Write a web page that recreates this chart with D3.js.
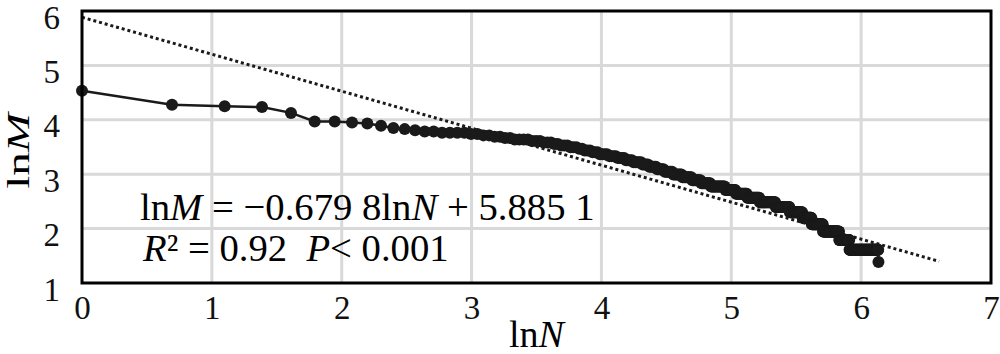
<!DOCTYPE html>
<html>
<head>
<meta charset="utf-8">
<script src="https://cdn.jsdelivr.net/npm/d3@7"></script>
<style>
  body { margin: 0; background: #fff; }
  svg { display: block; font-family: "Liberation Serif", "Times New Roman", serif; }
</style>
</head>
<body>
<script>
// rank-size data: M values (sorted high to low) and how many ranks share each value
const mValues = [93, 72, 70, 69, 62, 53, 52, 51, 49, 47, 46, 45,
  44, 43, 42, 41, 40, 39, 38, 37, 36, 35, 34, 33, 32, 31, 30, 29, 28, 27, 26, 25,
  24, 23, 22, 21, 20, 19, 18, 17, 16, 15, 14, 13, 12, 11, 10, 9, 8, 7, 6, 5, 4];
const mCounts = [1, 1, 1, 1, 1, 2, 1, 1, 1, 1, 1, 1,
  2, 4, 2, 2, 2, 2, 4, 3, 3, 2, 3, 3, 2, 3, 3, 4, 4, 4, 4, 5,
  4, 5, 5, 6, 7, 8, 8, 9, 15, 12, 14, 17, 24, 24, 24, 19, 25, 40, 28, 92, 1];

// fitted trend line lnM = a*lnN + b
const trendSlope = -0.6798;
const trendIntercept = 5.8851;
const trendEnd = 6.6;

const xTicks = [0, 1, 2, 3, 4, 5, 6, 7];
const yTicks = [1, 2, 3, 4, 5, 6];

const w = 1000, h = 354;
const pLeft = 82, pRight = 991, pTop = 11, pBottom = 283;

// expand run-lengths into (lnN, lnM) pairs
let dataset = [];
let rank = 1;
mValues.forEach((m, i) => {
  for (let k = 0; k < mCounts[i]; k++) {
    dataset.push([Math.log(rank), Math.log(m)]);
    rank++;
  }
});

const xScale = d3.scaleLinear().domain([0, 7]).range([pLeft, pRight]);
const yScale = d3.scaleLinear().domain([1, 6]).range([pBottom, pTop]);

const svg = d3.select("body").append("svg").attr("width", w).attr("height", h);

// grid
svg.append("g").selectAll("line")
  .data(xTicks.slice(1, -1))
  .enter().append("line")
  .attr("x1", d => xScale(d)).attr("x2", d => xScale(d))
  .attr("y1", pTop).attr("y2", pBottom)
  .attr("stroke", "#d9d9d9").attr("stroke-width", 3);

svg.append("g").selectAll("line")
  .data(yTicks.slice(1, -1))
  .enter().append("line")
  .attr("x1", pLeft).attr("x2", pRight)
  .attr("y1", d => yScale(d)).attr("y2", d => yScale(d))
  .attr("stroke", "#d9d9d9").attr("stroke-width", 3);

// axes (labels only)
const xAxis = d3.axisBottom(xScale).tickValues(xTicks).tickSize(0).tickPadding(13).tickFormat(d3.format("d"));
const yAxis = d3.axisLeft(yScale).tickValues(yTicks).tickSize(0).tickPadding(22).tickFormat(d3.format("d"));

const gx = svg.append("g").attr("transform", "translate(0," + pBottom + ")").call(xAxis);
const gy = svg.append("g").attr("transform", "translate(" + pLeft + ",0)").call(yAxis);
[gx, gy].forEach(g => {
  g.select(".domain").remove();
  g.selectAll("text").attr("font-family", "Liberation Serif").attr("font-size", 33).attr("fill", "#111");
});
gy.selectAll("text").attr("dy", "0.52em");

// data line and markers
const line = d3.line().x(d => xScale(d[0])).y(d => yScale(d[1]));
svg.append("path")
  .datum(dataset)
  .attr("d", line)
  .attr("fill", "none")
  .attr("stroke", "#1a1a1a")
  .attr("stroke-width", 2.5);

svg.append("g").selectAll("circle")
  .data(dataset)
  .enter().append("circle")
  .attr("cx", d => xScale(d[0]))
  .attr("cy", d => yScale(d[1]))
  .attr("r", 6)
  .attr("fill", "#1a1a1a");

// trend line
svg.append("line")
  .attr("x1", xScale(0)).attr("y1", yScale(trendIntercept))
  .attr("x2", xScale(trendEnd)).attr("y2", yScale(trendSlope * trendEnd + trendIntercept))
  .attr("stroke", "#1a1a1a")
  .attr("stroke-width", 3)
  .attr("stroke-dasharray", "3 2.9");

// frame
svg.append("rect")
  .attr("x", pLeft).attr("y", pTop)
  .attr("width", pRight - pLeft).attr("height", pBottom - pTop)
  .attr("fill", "none").attr("stroke", "#000").attr("stroke-width", 3);

// axis titles
svg.append("text")
  .attr("x", (pLeft + pRight) / 2).attr("y", 347)
  .attr("text-anchor", "middle")
  .attr("font-size", 38)
  .html('ln<tspan font-style="italic">N</tspan>');

svg.append("text")
  .attr("transform", "translate(29,151) rotate(-90) scale(1,0.68)")
  .attr("text-anchor", "middle")
  .attr("font-size", 47)
  .html('ln<tspan font-style="italic">M</tspan>');

// equation
svg.append("text")
  .attr("x", 140).attr("y", 220)
  .attr("font-size", 38.7)
  .html('ln<tspan font-style="italic">M</tspan> = \u22120.679 8ln<tspan font-style="italic">N</tspan> + 5.885 1');

svg.append("text")
  .attr("x", 143).attr("y", 261)
  .attr("font-size", 38.7)
  .style("white-space", "pre")
  .html('<tspan font-style="italic">R</tspan>\u00b2 = 0.92  <tspan font-style="italic">P</tspan>&lt; 0.001');
</script>
</body>
</html>
